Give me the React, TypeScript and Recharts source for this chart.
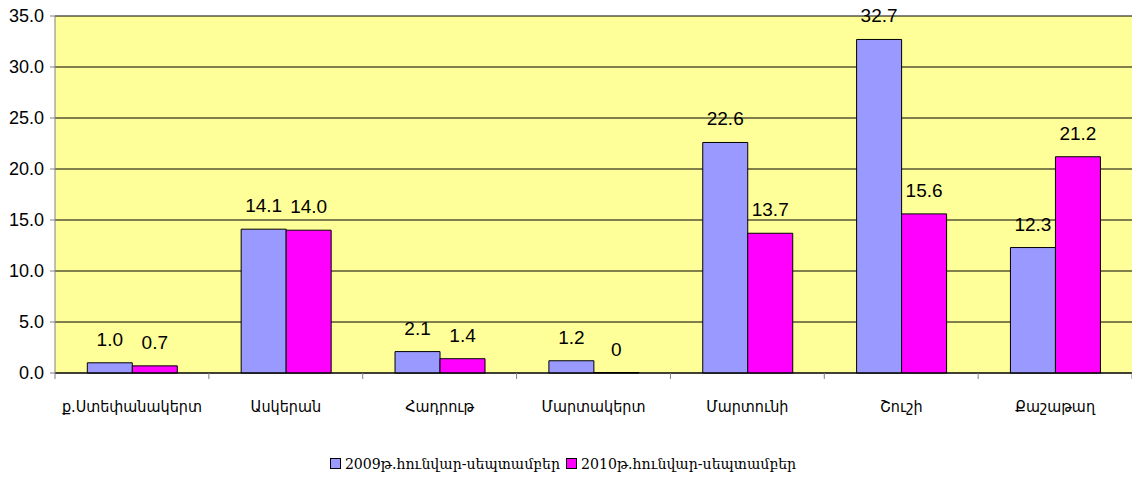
import { Bar, BarChart, CartesianGrid, Legend, XAxis, YAxis } from "recharts";

const categories = ["ք.Ստեփանակերտ", "Ասկերան", "Հադրութ", "Մարտակերտ", "Մարտունի", "Շուշի", "Քաշաթաղ"];
const values2009 = [1.0, 14.1, 2.1, 1.2, 22.6, 32.7, 12.3];
const values2010 = [0.7, 14.0, 1.4, 0, 13.7, 15.6, 21.2];
const yTicks = [0, 5, 10, 15, 20, 25, 30, 35];
const seriesNames = ["2009թ.հունվար-սեպտամբեր", "2010թ.հունվար-սեպտամբեր"];
const seriesColors = ["#9999FF", "#FF00FF"];

const data = categories.map((name, i) => ({ name, a: values2009[i], b: values2010[i] }));

const W = 1132;
const H = 498;
const LEFT = 55;
const band = (W - LEFT) / categories.length;

const narrow = "'Liberation Sans Narrow', 'Liberation Sans', Arial, sans-serif";

function CategoryTick(props: any) {
  const { x, y, payload, index } = props;
  const axisY = y - 8;
  return (
    <g>
      <line x1={x - band / 2} x2={x - band / 2} y1={axisY} y2={axisY + 6} stroke="#808080" />
      {index === categories.length - 1 && (
        <line x1={x + band / 2} x2={x + band / 2} y1={axisY} y2={axisY + 6} stroke="#808080" />
      )}
      <text x={x} y={y + 31} textAnchor="middle" fontSize={16} fill="#000" fontFamily="'DejaVu Sans Condensed', 'DejaVu Sans', sans-serif">
        {payload.value}
      </text>
    </g>
  );
}

function LegendBox() {
  return (
    <div style={{ height: 30, display: "flex", justifyContent: "center", alignItems: "center", fontFamily: "'DejaVu Serif Condensed', 'DejaVu Serif', serif", fontSize: 15.7 }}>
      {seriesNames.map((n, i) => (
        <span key={n} style={{ display: "inline-flex", alignItems: "center", marginRight: 6 }}>
          <span style={{ width: 9, height: 9, background: seriesColors[i], border: "1px solid #000", marginRight: 4, display: "inline-block" }} />
          {n}
        </span>
      ))}
    </div>
  );
}

const fmt = (v: any) => (Number(v) === 0 ? "0" : Number(v).toFixed(1));

function ValueLabel(props: any) {
  const { x, y, width, height, value } = props;
  // zero bars get a tiny min size, so measure from the bar's bottom edge
  const top = Number(value) === 0 ? y + height : y;
  return (
    <text x={x + width / 2} y={top - 17} textAnchor="middle" fontSize={19} fill="#000" fontFamily={narrow}>
      {fmt(value)}
    </text>
  );
}

// keep empty bars in the rendered list so their "0" label still shows
const minSize = (v: any) => (Number(v) === 0 ? 0.5 : 0);

export default function App() {
  return (
    <div style={{ position: "absolute", left: 0, top: 0, width: W, height: H, background: "#fff" }}>
      <BarChart width={W} height={H} data={data} margin={{ top: 16, right: 0, left: 0, bottom: 20 }} barCategoryGap="21%" barGap={0}>
        <CartesianGrid vertical={false} stroke="#000" fill="#FFFF99" />
        <XAxis dataKey="name" tick={<CategoryTick />} tickLine={false} tickSize={6} tickMargin={2} height={75} axisLine={{ stroke: "#000" }} interval={0} />
        <YAxis
          width={LEFT}
          domain={[0, 35]}
          ticks={yTicks}
          tickFormatter={(v) => Number(v).toFixed(1)}
          tick={{ fontSize: 18, fill: "#000", fontFamily: narrow }}
          tickLine={{ stroke: "#808080" }}
          tickSize={5}
          tickMargin={6}
          axisLine={{ stroke: "#808080" }}
        />
        <Legend verticalAlign="bottom" content={<LegendBox />} />
        <Bar dataKey="a" name={seriesNames[0]} fill={seriesColors[0]} stroke="#000" strokeWidth={1} isAnimationActive={false} label={<ValueLabel />} />
        <Bar dataKey="b" name={seriesNames[1]} fill={seriesColors[1]} stroke="#000" strokeWidth={1} isAnimationActive={false} minPointSize={minSize} label={<ValueLabel />} />
      </BarChart>
    </div>
  );
}
